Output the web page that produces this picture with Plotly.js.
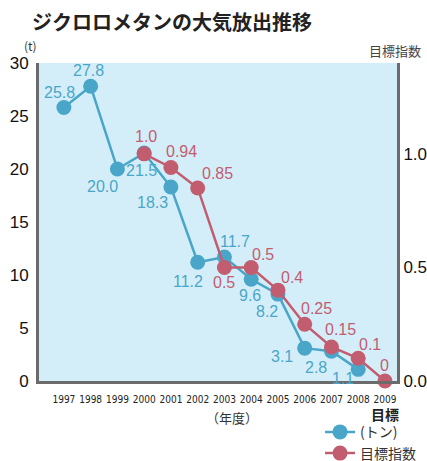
<!DOCTYPE html>
<html><head><meta charset="utf-8">
<script src="https://cdn.plot.ly/plotly-3.0.1.min.js"></script>
<style>html,body{margin:0;padding:0;background:#fff}#chart{width:427px;height:461px}</style>
</head><body><div id="chart"></div>
<script>
const years = [1997,1998,1999,2000,2001,2002,2003,2004,2005,2006,2007,2008,2009];
const yearLabels = ["1997","1998","1999","2000","2001","2002","2003","2004","2005","2006","2007","2008","2009"];
const tonYears = [1997,1998,1999,2000,2001,2002,2003,2004,2005,2006,2007,2008];
const tons = [25.8,27.8,20.0,21.5,18.3,11.2,11.7,9.6,8.2,3.1,2.8,1.1];
const tonText = ["25.8","27.8","20.0","21.5","18.3","11.2","11.7","9.6","8.2","3.1","2.8","1.1"];
const idxYears = [2000,2001,2002,2003,2004,2005,2006,2007,2008,2009];
const idx = [1.0,0.94,0.85,0.5,0.5,0.4,0.25,0.15,0.1,0];
const idxText = ["1.0","0.94","0.85","0.5","0.5","0.4","0.25","0.15","0.1","0"];
// label pixel offsets (dx, dy) from the marker
const tonOff = [[-4,-15],[-2,-16],[-15,17],[-3,17],[-18,15],[-10,19],[11,-15],[-1,16],[-11,17],[-23,8],[-15,16],[-15,9]];
const idxOff = [[2,-17],[11,-16],[20,-14],[0,15],[12,-13],[14,-13],[12,-16],[9,-17],[12,-14],[0,-16]];

const blue = '#4aa6c9', red = '#c25d70';
const lab = "Liberation Sans, Arial, sans-serif";
const jp = "Noto Sans CJK JP, sans-serif";

const traces = [
 {x: tonYears, y: tons, type:'scatter', mode:'lines+markers', name:'(トン)',
  line:{color:blue, width:2.5}, marker:{color:blue, size:15}, yaxis:'y', cliponaxis:false},
 {x: idxYears, y: idx, type:'scatter', mode:'lines+markers', name:'目標指数',
  line:{color:red, width:2.5}, marker:{color:red, size:15}, yaxis:'y2', cliponaxis:false}
];

const ann = [];
tonYears.forEach((yr,i)=>ann.push({x:yr, y:tons[i], xref:'x', yref:'y', text:tonText[i], showarrow:false,
  xshift:tonOff[i][0], yshift:-tonOff[i][1], font:{family:lab, size:16, color:blue}}));
idxYears.forEach((yr,i)=>ann.push({x:yr, y:idx[i], xref:'x', yref:'y2', text:idxText[i], showarrow:false,
  xshift:idxOff[i][0], yshift:-idxOff[i][1], font:{family:lab, size:16, color:red}}));
ann.push({x:2009, y:0, xref:'x', yref:'paper', yanchor:'middle', yshift:-33, text:'<b>目標</b>', showarrow:false,
  font:{family:jp, size:14, color:'#222'}});
ann.push({x:2003.3, y:0, xref:'x', yref:'paper', yanchor:'middle', yshift:-36, text:'（年度）', showarrow:false,
  font:{family:jp, size:13, color:'#333'}});
ann.push({x:0, y:1, xref:'paper', yref:'paper', xanchor:'center', yanchor:'middle', xshift:-9, yshift:18, text:'(t)', showarrow:false,
  font:{family:jp, size:12, color:'#333'}});
ann.push({x:1, y:1, xref:'paper', yref:'paper', xanchor:'center', yanchor:'middle', xshift:-2, yshift:13, text:'目標指数', showarrow:false,
  font:{family:jp, size:13, color:'#444'}});

const layout = {
 width:427, height:461, margin:{l:39, r:30, t:63, b:80, autoexpand:false},
 paper_bgcolor:'#fff', plot_bgcolor:'#d4eef9',
 title:{text:'<b>ジクロロメタンの大気放出推移</b>', font:{family:jp, size:20, color:'#222'},
   xref:'container', yref:'container', x:32/427, xanchor:'left', y:1-23/461, yanchor:'middle'},
 xaxis:{range:[1996.07, 2009.45], tickvals:years, ticktext:yearLabels, showgrid:false, zeroline:false,
   showline:true, linewidth:3, linecolor:'#6b6b6b', ticks:'', tickangle:0, automargin:false, ticklabelstandoff:7,
   tickfont:{family:"Liberation Sans Narrow, DejaVu Sans Condensed, sans-serif", size:10, color:'#222'}},
 yaxis:{range:[0,30], tickvals:[0,5,10,15,20,25,30], showgrid:false, zeroline:false, automargin:false,
   showline:true, linewidth:3, linecolor:'#6b6b6b', ticks:'', ticklabelstandoff:4,
   tickfont:{family:lab, size:17, color:'#111'}},
 yaxis2:{range:[0,1.4], overlaying:'y', side:'right', tickvals:[0,0.5,1.0], ticktext:['0.0','0.5','1.0'],
   showgrid:false, zeroline:false, showline:true, linewidth:3, linecolor:'#6b6b6b', ticks:'', automargin:false,
   ticklabelstandoff:0, tickfont:{family:lab, size:17, color:'#111'}},
 showlegend:true,
 legend:{x:0.785, y:-0.111, xanchor:'left', yanchor:'top', bgcolor:'rgba(0,0,0,0)', itemwidth:30,
   font:{family:jp, size:14, color:'#333'}, tracegroupgap:0},
 annotations: ann
};
Plotly.newPlot('chart', traces, layout, {staticPlot:true, displayModeBar:false});
</script></body></html>
